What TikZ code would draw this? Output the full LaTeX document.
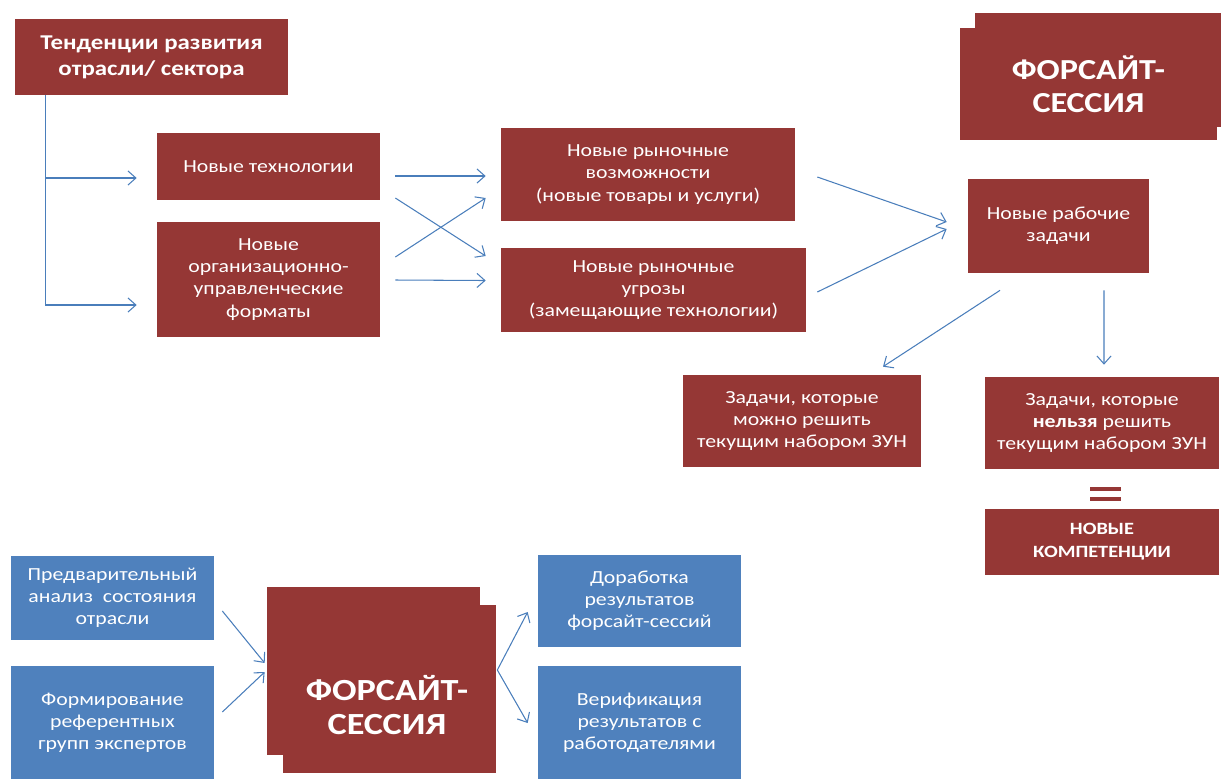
\documentclass[tikz,border=0pt]{standalone}
\usepackage{fontspec}
\setmainfont{Carlito}[FakeStretch=1.18]
\usetikzlibrary{arrows.meta,calc}
\definecolor{boxred}{HTML}{953735}
\definecolor{boxblue}{HTML}{4F81BD}
\definecolor{arrblue}{HTML}{4A7EBB}
\begin{document}
\begin{tikzpicture}[x=0.02cm, y=-0.02cm, >={Straight Barb[length=4.5pt,width=8pt]},
    font=\fontsize{10.5}{12.6}\selectfont,
    redbox/.style={fill=boxred, text=white, align=center, inner sep=0pt},
    bluebox/.style={fill=boxblue, text=white, align=center, inner sep=0pt},
    bigtxt/.style={text=white, align=center, inner sep=0pt, font=\fontsize{17.5}{19.5}\selectfont\bfseries},
    arr/.style={->, draw=arrblue, line width=0.6pt}]
    \useasboundingbox (0,0) rectangle (1221,779);
    \node (tend) [redbox, minimum width=5.46cm, minimum height=1.52cm, font=\fontsize{12}{14.6}\selectfont\bfseries] at (151.5,57) {Тенденции развития\\отрасли/ сектора};
    \node (tech) [redbox, minimum width=4.46cm, minimum height=1.34cm] at (268.5,166.5) {Новые технологии};
    \node (org) [redbox, minimum width=4.46cm, minimum height=2.30cm] at (268.5,279.5) {Новые\\организационно-\\управленческие\\форматы};
    \node (vozm) [redbox, minimum width=5.88cm, minimum height=1.86cm] at (648,174.5) {Новые рыночные\\возможности\\(новые товары и услуги)};
    \node (ugroz) [redbox, minimum width=6.10cm, minimum height=1.68cm] at (653.5,290) {Новые рыночные\\угрозы\\(замещающие технологии)};
    \node (forsTopBack) [redbox, minimum width=4.92cm, minimum height=2.28cm] at (1098,70) {};
    \node (forsTop) [redbox, minimum width=5.14cm, minimum height=2.24cm, font=\fontsize{16.5}{18.5}\selectfont\bfseries] at (1088.5,84) {ФОРСАЙТ-\\СЕССИЯ};
    \node (rabZad) [redbox, minimum width=3.62cm, minimum height=1.88cm] at (1058.5,226) {Новые рабочие\\задачи};
    \node (mozhno) [redbox, minimum width=4.76cm, minimum height=1.84cm] at (802,421) {Задачи, которые\\можно решить\\текущим набором ЗУН};
    \node (nelzya) [redbox, minimum width=4.68cm, minimum height=1.84cm] at (1102,423) {Задачи, которые\\\textbf{нельзя} решить\\текущим набором ЗУН};
    \node (novKomp) [redbox, minimum width=4.68cm, minimum height=1.32cm, font=\fontsize{9.8}{13}\selectfont\bfseries] at (1102,542) {НОВЫЕ\\КОМПЕТЕНЦИИ};
    \fill[boxred] (1090,487) rectangle (1121,491);
    \fill[boxred] (1090,497) rectangle (1121,501);
    \node (predv) [bluebox, minimum width=4.06cm, minimum height=1.68cm] at (112.5,598) {Предварительный\\анализ \ состояния\\отрасли};
    \node (form) [bluebox, minimum width=4.06cm, minimum height=2.26cm] at (112.5,722.5) {Формирование\\референтных\\групп экспертов};
    \node (forsBotA) [redbox, minimum width=4.26cm, minimum height=3.36cm] at (373.5,671) {};
    \node (forsBotB) [redbox, minimum width=4.26cm, minimum height=3.36cm] at (389.5,689) {};
    \node (forsBot) [bigtxt] at (387,705) {ФОРСАЙТ-\\СЕССИЯ};
    \node (dorab) [bluebox, minimum width=4.06cm, minimum height=1.84cm] at (639.5,601) {Доработка\\результатов\\форсайт-сессий};
    \node (verif) [bluebox, minimum width=4.06cm, minimum height=2.26cm] at (639.5,722.5) {Верификация\\результатов с\\работодателями};
    \draw[arr] ($(tend.south west)+(31,0)$) |- ($(tech.west)+(-20,11.5)$);
    \draw[arr] ($(tend.south west)+(31,0)$) |- ($(org.west)+(-20,25.5)$);
    \draw[arr] ($(tech.east)+(15,9.5)$) -- ($(vozm.west)+(-15,1.5)$);
    \draw[arr] ($(tech.east)+(15,31.5)$) -- ($(ugroz.west)+(-15,-34)$);
    \draw[arr] ($(org.east)+(15,-22.5)$) -- ($(vozm.west)+(-15,23.5)$);
    \draw[arr] ($(org.east)+(15,0.5)$) -- ($(ugroz.west)+(-15,-9.5)$);
    \draw[arr] ($(vozm.east)+(22,2.5)$) -- ($(rabZad.west)+(-21,-4)$);
    \draw[arr] ($(ugroz.east)+(11,2)$) -- ($(rabZad.west)+(-21,3)$);
    \draw[arr] ($(rabZad.south)+(-58.5,17)$) -- ($(mozhno.north)+(81,-8)$);
    \draw[arr] ($(rabZad.south)+(45.5,17)$) -- ($(nelzya.north)+(2,-12)$);
    \draw[arr] ($(predv.east)+(8,13)$) -- ($(forsBotA.west)+(-2,-8)$);
    \draw[arr] ($(form.east)+(8,-10.5)$) -- ($(forsBotA.west)+(-2,1)$);
    \draw[arr] ($(forsBotB.east)+(1,-19)$) -- ($(dorab.west)+(-10,11)$);
    \draw[arr] ($(forsBotB.east)+(1,-19)$) -- ($(verif.west)+(-10,0.5)$);
\end{tikzpicture}
\end{document}
